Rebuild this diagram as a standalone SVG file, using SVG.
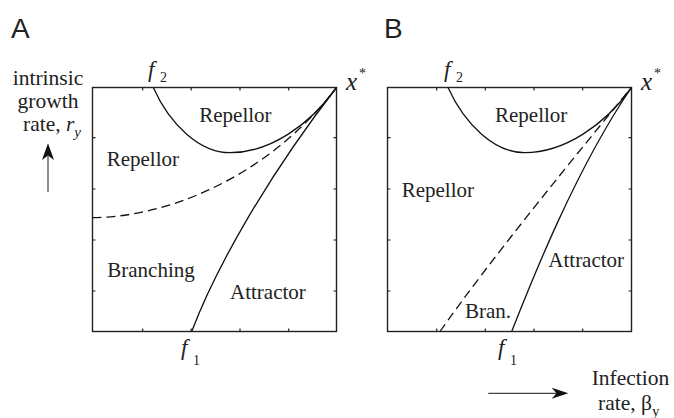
<svg xmlns="http://www.w3.org/2000/svg" width="674" height="418" viewBox="0 0 674 418">
<style>
.box{fill:none;stroke:#222;stroke-width:1.4}
.tick{stroke:#222;stroke-width:1.2}
.cv{fill:none;stroke:#111;stroke-width:1.3}
.ds{fill:none;stroke:#111;stroke-width:1.3;stroke-dasharray:9 5}
.lb{font-family:"Liberation Serif","Times New Roman",serif;font-size:21px;fill:#222}
.ax{font-family:"Liberation Serif","Times New Roman",serif;font-size:21.5px;fill:#222}
.m{font-family:"Liberation Serif","Times New Roman",serif;font-style:italic;fill:#222}
.sub{font-family:"Liberation Serif","Times New Roman",serif;font-size:14px;fill:#222}
.pl{font-family:"Liberation Sans",Arial,sans-serif;font-size:28px;fill:#222}
.arr{stroke:#444;stroke-width:1.2}
</style>
<rect width="674" height="418" fill="#fff"/>

<g id="panelA">
  <text class="pl" x="11" y="38.3">A</text>
  <rect class="box" x="92.5" y="87.5" width="244" height="244"/>
  <g id="ticksA">
    <path class="tick" d="M142.7,87.5v3M191.2,87.5v3M240,87.5v3M288.7,87.5v3M142.7,331.5v-3M191.2,331.5v-3M240,331.5v-3M288.7,331.5v-3M92.5,137.7h3M92.5,189h3M92.5,240h3M92.5,291h3M336.5,137.7h-3M336.5,189h-3M336.5,240h-3M336.5,291h-3"/>
  </g>
  <g id="curvesA">
    <path class="cv" d="M153.3,87.5 C170,125 200,152.7 230,152.7 C270,152.7 310,125 336.5,87.5"/>
    <path class="ds" d="M92.5,217.7 C170,217 270,175 336.5,87.5"/>
    <path class="cv" d="M191.7,331.5 C215,270 265,180 336.5,87.5"/>
  </g>
  <text class="lb" x="199.3" y="121.7">Repellor</text>
  <text class="lb" x="106.7" y="165.7">Repellor</text>
  <text class="lb" x="107.3" y="277.3">Branching</text>
  <text class="lb" x="230" y="299">Attractor</text>
  <text class="m" font-size="23" x="148" y="77">f</text>
  <text class="sub" x="160" y="82">2</text>
  <text class="m" font-size="23" x="181" y="355">f</text>
  <text class="sub" x="193" y="365">1</text>
  <text class="m" font-size="25" x="346" y="90">x</text>
  <text class="sub" x="359" y="78">*</text>
</g>

<g id="yAxisLabel">
  <text class="ax" x="48" y="85" text-anchor="middle">intrinsic</text>
  <text class="ax" x="48" y="108.3" text-anchor="middle">growth</text>
  <text class="ax" x="23" y="131">rate, <tspan font-style="italic">r</tspan><tspan font-style="italic" font-size="15" dy="6">y</tspan></text>
  <line class="arr" x1="48" y1="192" x2="48" y2="156"/>
  <path d="M48,143.3 L54,160 L48,155.5 L42,160 Z" fill="#111"/>
</g>

<g id="panelB">
  <text class="pl" x="384" y="38.3">B</text>
  <rect class="box" x="387.5" y="87.5" width="244" height="244"/>
  <g id="ticksB">
    <path class="tick" d="M436.7,87.5v3M485.3,87.5v3M534,87.5v3M582.7,87.5v3M436.7,331.5v-3M485.3,331.5v-3M534,331.5v-3M582.7,331.5v-3M387.5,137.7h3M387.5,189h3M387.5,240h3M387.5,291h3M631.5,137.7h-3M631.5,189h-3M631.5,240h-3M631.5,291h-3"/>
  </g>
  <g id="curvesB">
    <path class="cv" d="M448,87.5 C465,125 495,152.7 524.5,152.7 C564.5,152.7 605,125 631.5,87.5"/>
    <path class="ds" d="M440,331.5 C490,260 580,150 631.5,87.5"/>
    <path class="cv" d="M511.7,331.5 C530,285 575,170 631.5,87.5"/>
  </g>
  <text class="lb" x="495" y="121.7">Repellor</text>
  <text class="lb" x="401.7" y="196.7">Repellor</text>
  <text class="lb" x="548.3" y="267.3">Attractor</text>
  <text class="lb" x="465" y="318.3">Bran.</text>
  <text class="m" font-size="23" x="444" y="77">f</text>
  <text class="sub" x="456" y="82">2</text>
  <text class="m" font-size="23" x="498" y="355">f</text>
  <text class="sub" x="510" y="365">1</text>
  <text class="m" font-size="25" x="641" y="90">x</text>
  <text class="sub" x="654" y="78">*</text>
</g>

<g id="xAxisLabel">
  <line class="arr" x1="488.3" y1="393.3" x2="557" y2="393.3"/>
  <path d="M568.3,393.3 L551.7,387.8 L556.5,393.3 L551.7,398.8 Z" fill="#111"/>
  <text class="ax" x="630.5" y="385" text-anchor="middle">Infection</text>
  <text class="ax" x="598" y="410">rate, β<tspan font-size="15" dy="6">y</tspan></text>
</g>
</svg>
